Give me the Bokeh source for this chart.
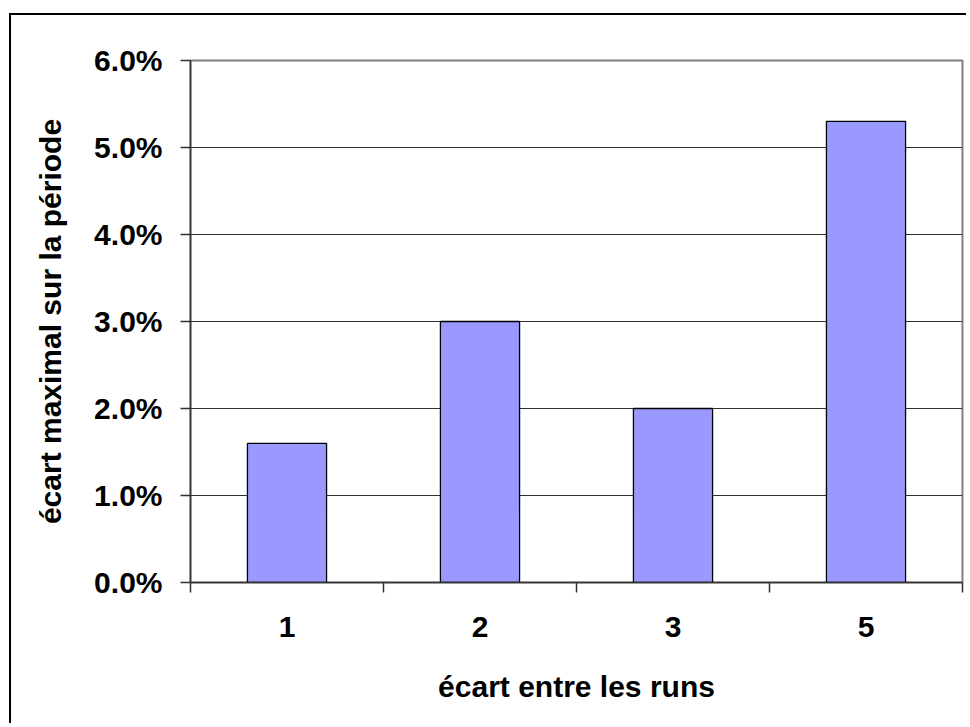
from bokeh.plotting import figure
from bokeh.models import Range1d, FixedTicker, NumeralTickFormatter, ColumnDataSource
from bokeh.layouts import column
from bokeh.embed import file_html
from bokeh.resources import INLINE

# ---- data ----
categories = ["1", "2", "3", "5"]
values = [0.016, 0.030, 0.020, 0.053]
y_ticks = [0.0, 0.01, 0.02, 0.03, 0.04, 0.05, 0.06]
x_title = "écart entre les runs"
y_title = "écart maximal sur la période"

x_pos = [i + 0.5 for i in range(len(categories))]
boundaries = list(range(len(categories) + 1))
src = ColumnDataSource(dict(x=x_pos, top=values, cat=categories))

FONT = "Liberation Sans"

p = figure(width=955, height=708,
           x_range=Range1d(0, len(categories)), y_range=Range1d(0, 0.06),
           output_backend="svg", toolbar_location=None,
           min_border_left=179, min_border_right=4,
           min_border_top=45, min_border_bottom=141)
p.background_fill_color = "white"
p.border_fill_color = "white"
p.outline_line_color = "#808080"
p.outline_line_width = 2

p.vbar(x="x", top="top", bottom=0, width=0.41, source=src,
       fill_color="#9999FF", line_color="black", line_width=1.3)

# x axis
xa = p.xaxis[0]
xa.ticker = FixedTicker(ticks=x_pos, minor_ticks=boundaries)
xa.major_label_overrides = {x: c for x, c in zip(x_pos, categories)}
xa.major_tick_out = 0
xa.major_tick_in = 0
xa.minor_tick_out = 10
xa.minor_tick_in = 0
xa.minor_tick_line_color = "#333333"
xa.minor_tick_line_width = 1.5
xa.axis_line_color = "#333333"
xa.axis_line_width = 1.5
xa.major_label_standoff = 24
xa.axis_label = x_title
xa.axis_label_standoff = 30

# y axis
ya = p.yaxis[0]
ya.ticker = FixedTicker(ticks=y_ticks)
ya.formatter = NumeralTickFormatter(format="0.0%")
ya.major_tick_out = 10
ya.major_tick_in = 0
ya.minor_tick_out = 0
ya.minor_tick_in = 0
ya.major_tick_line_color = "#333333"
ya.major_tick_line_width = 1.5
ya.axis_line_color = "#333333"
ya.axis_line_width = 1.5
ya.major_label_standoff = 18
ya.axis_label = y_title
ya.axis_label_standoff = 24

for ax in (xa, ya):
    ax.major_label_text_font = FONT
    ax.major_label_text_font_style = "bold"
    ax.major_label_text_font_size = "30px"
    ax.major_label_text_color = "black"
    ax.axis_label_text_font = FONT
    ax.axis_label_text_font_style = "bold"
    ax.axis_label_text_font_size = "30px"
    ax.axis_label_text_color = "black"

p.xgrid.visible = False
p.ygrid.ticker = FixedTicker(ticks=y_ticks)
p.ygrid.grid_line_color = "#303030"
p.ygrid.grid_line_width = 1

layout = column(p, styles={"margin-left": "9px", "margin-top": "13px",
                           "border-left": "2px solid black",
                           "border-top": "2px solid black"})

open("out.html", "w").write(file_html(layout, INLINE))
